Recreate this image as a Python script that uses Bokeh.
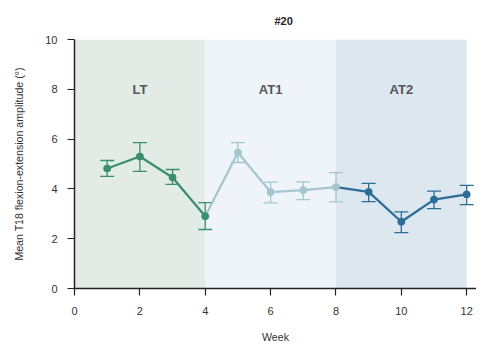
from bokeh.plotting import figure
from bokeh.models import ColumnDataSource, FixedTicker, Range1d, Title
from bokeh.embed import file_html
from bokeh.resources import INLINE

weeks_lt = [1, 2, 3, 4]
mean_lt = [4.82, 5.3, 4.46, 2.9]
lo_lt = [4.5, 4.7, 4.18, 2.37]
hi_lt = [5.14, 5.86, 4.78, 3.45]

weeks_at1 = [5, 6, 7, 8]
mean_at1 = [5.46, 3.87, 3.95, 4.07]
lo_at1 = [5.06, 3.44, 3.57, 3.48]
hi_at1 = [5.86, 4.27, 4.28, 4.65]

weeks_at2 = [9, 10, 11, 12]
mean_at2 = [3.88, 2.68, 3.57, 3.78]
lo_at2 = [3.49, 2.24, 3.21, 3.37]
hi_at2 = [4.22, 3.08, 3.91, 4.14]

phases = ["LT", "AT1", "AT2"]
phase_start = [0, 4, 8]
phase_end = [4, 8, 12]
phase_label_x = [2, 6, 10]
phase_label_y = [8, 8, 8]

x_ticks = [0, 2, 4, 6, 8, 10, 12]
y_ticks = [0, 2, 4, 6, 8, 10]
title_text = "#20"

c_lt = "#3b8f6e"
c_at1 = "#a3c6cf"
c_at2 = "#2c6d97"
bg = ["#e2ebe6", "#eff4fa", "#dce7f0"]

p = figure(width=476, height=345, output_backend="svg", toolbar_location=None,
           x_range=Range1d(0, 12.3), y_range=Range1d(0, 10),
           min_border_left=74, min_border_right=0, min_border_top=39, min_border_bottom=56)
p.outline_line_color = None
p.grid.visible = False
p.background_fill_color = "white"
p.border_fill_color = "white"

spacer = Title(text=" ", text_font_size="5px", standoff=0)
p.add_layout(spacer, "above")
main_title = Title(text=title_text, align="left", offset=200, text_font="Liberation Sans",
                   text_font_size="11px", text_font_style="bold", text_color="#222222")
p.add_layout(main_title, "above")

src_bg = ColumnDataSource(dict(left=phase_start, right=phase_end, bottom=[0]*3, top=[10]*3, color=bg))
p.quad(left="left", right="right", bottom="bottom", top="top", fill_color="color", line_color=None, source=src_bg)

p.text(x=phase_label_x, y=phase_label_y, text=phases, text_align="center", text_baseline="middle",
       text_font_size="13px", text_font_style="bold", text_color="#555555", text_font={"value": "Liberation Sans"})

# error bars
for w, lo, hi, c in [(weeks_lt, lo_lt, hi_lt, c_lt),
                     (weeks_at1, lo_at1, hi_at1, c_at1),
                     (weeks_at2, lo_at2, hi_at2, c_at2)]:
    p.segment(x0=w, y0=lo, x1=w, y1=hi, line_color=c, line_width=1.3)
    p.scatter(w, lo, marker="dash", size=14, line_color=c, line_width=1.3)
    p.scatter(w, hi, marker="dash", size=14, line_color=c, line_width=1.3)

# lines
p.line(weeks_lt, mean_lt, line_color=c_lt, line_width=2.3)
p.line([weeks_lt[-1]] + weeks_at1, [mean_lt[-1]] + mean_at1, line_color=c_at1, line_width=2.3)
p.line([weeks_at1[-1]] + weeks_at2, [mean_at1[-1]] + mean_at2, line_color=c_at2, line_width=2.3)

p.scatter(weeks_lt, mean_lt, size=7, fill_color=c_lt, line_color=c_lt)
p.scatter(weeks_at1, mean_at1, size=7, fill_color=c_at1, line_color=c_at1)
p.scatter(weeks_at2, mean_at2, size=7, fill_color=c_at2, line_color=c_at2)

for ax in (p.xaxis, p.yaxis):
    ax.axis_line_color = "#222222"
    ax.axis_line_width = 1.5
    ax.major_tick_line_color = "#222222"
    ax.major_tick_line_width = 1.2
    ax.major_tick_out = 7
    ax.major_tick_in = 0
    ax.minor_tick_line_color = None
    ax.major_label_text_font = "Liberation Sans"
    ax.major_label_text_font_size = "11px"
    ax.major_label_text_color = "#333333"
    ax.axis_label_text_font = "Liberation Sans"
    ax.axis_label_text_font_size = "10.6px"
    ax.axis_label_text_font_style = "normal"
    ax.axis_label_text_color = "#333333"

p.xaxis.ticker = FixedTicker(ticks=x_ticks)
p.yaxis.ticker = FixedTicker(ticks=y_ticks)
p.xaxis.axis_label = "Week"
p.xaxis.axis_label_standoff = 13
p.yaxis.axis_label = "Mean T18 flexion-extension amplitude (°)"
p.yaxis.axis_label_standoff = 17
p.xaxis.major_label_standoff = 11
p.yaxis.major_label_standoff = 10

open("out.html", "w").write(file_html(p, INLINE))
